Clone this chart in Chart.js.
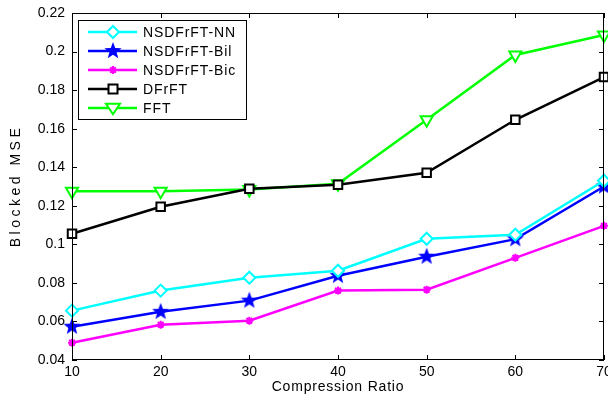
<!DOCTYPE html>
<html>
<head>
<meta charset="utf-8">
<script src="https://cdn.jsdelivr.net/npm/chart.js@4.4.0/dist/chart.umd.min.js"></script>
<style>
  html, body { margin: 0; padding: 0; background: #fff; }
  canvas { display: block; }
</style>
</head>
<body>
<canvas id="grafico" width="608" height="400"></canvas>
<script>
// valores
const ratios = [10, 20, 30, 40, 50, 60, 70];
const nsdNN  = [0.0656, 0.0760, 0.0827, 0.0863, 0.1029, 0.1050, 0.1330];
const nsdBil = [0.0573, 0.0650, 0.0708, 0.0837, 0.0936, 0.1027, 0.1300];
const nsdBic = [0.0490, 0.0583, 0.0604, 0.0760, 0.0765, 0.0930, 0.1096];
const dfrft  = [0.1055, 0.1195, 0.1288, 0.1309, 0.1371, 0.1646, 0.1868];
const fft    = [0.1275, 0.1275, 0.1285, 0.1314, 0.1646, 0.1982, 0.2086];
const yTicks = [0.04, 0.06, 0.08, 0.1, 0.12, 0.14, 0.16, 0.18, 0.2, 0.22];

const fonte = "'Liberation Sans', Arial, sans-serif";

// estrela cheia (pentagrama) para a serie Bil
function criarEstrela(cor, r) {
  const c = document.createElement("canvas");
  const s = Math.ceil(r * 2 + 2);
  c.width = s; c.height = s;
  const g = c.getContext("2d");
  g.beginPath();
  for (let i = 0; i < 10; i++) {
    const rad = i % 2 === 0 ? r : r * 0.42;
    const a = -Math.PI / 2 + i * Math.PI / 5;
    const px = s / 2 + rad * Math.cos(a), py = s / 2 + rad * Math.sin(a);
    if (i === 0) g.moveTo(px, py); else g.lineTo(px, py);
  }
  g.closePath();
  g.fillStyle = cor;
  g.fill();
  return c;
}
const estrela = criarEstrela("#0000ff", 9);

const series = [
  { label: "NSDFrFT-NN", data: nsdNN, cor: "#00ffff", estilo: "rectRot", raio: 6, rot: 0 },
  { label: "NSDFrFT-Bil", data: nsdBil, cor: "#0000ff", estilo: estrela, raio: 9, rot: 0 },
  { label: "NSDFrFT-Bic", data: nsdBic, cor: "#ff00ff", estilo: "star", raio: 4, rot: 0 },
  { label: "DFrFT", data: dfrft, cor: "#000000", estilo: "rect", raio: 6, rot: 0 },
  { label: "FFT", data: fft, cor: "#00ff00", estilo: "triangle", raio: 7, rot: 180 },
];

function desenharMarcador(ctx, s, x, y) {
  ctx.save();
  ctx.strokeStyle = s.cor;
  ctx.fillStyle = s.cor;
  ctx.lineWidth = 2;
  if (typeof s.estilo !== "string") {
    ctx.drawImage(s.estilo, x - s.estilo.width / 2, y - s.estilo.height / 2);
  } else if (s.estilo === "rectRot") {
    ctx.fillStyle = "#fff";
    ctx.beginPath();
    ctx.moveTo(x, y - s.raio); ctx.lineTo(x + s.raio, y);
    ctx.lineTo(x, y + s.raio); ctx.lineTo(x - s.raio, y); ctx.closePath();
    ctx.fill(); ctx.stroke();
  } else if (s.estilo === "star") {
    const r = s.raio;
    ctx.beginPath();
    ctx.moveTo(x - r, y); ctx.lineTo(x + r, y);
    ctx.moveTo(x, y - r); ctx.lineTo(x, y + r);
    ctx.moveTo(x - r * 0.7, y - r * 0.7); ctx.lineTo(x + r * 0.7, y + r * 0.7);
    ctx.moveTo(x + r * 0.7, y - r * 0.7); ctx.lineTo(x - r * 0.7, y + r * 0.7);
    ctx.stroke();
  } else if (s.estilo === "rect") {
    const r = s.raio * 0.75;
    ctx.fillStyle = "#fff";
    ctx.fillRect(x - r, y - r, 2 * r, 2 * r);
    ctx.strokeRect(x - r, y - r, 2 * r, 2 * r);
  } else if (s.estilo === "triangle") {
    const r = s.raio;
    ctx.fillStyle = "#fff";
    ctx.beginPath();
    ctx.moveTo(x - r, y - r * 0.6); ctx.lineTo(x + r, y - r * 0.6);
    ctx.lineTo(x, y + r * 0.9); ctx.closePath();
    ctx.fill(); ctx.stroke();
  }
  ctx.restore();
}

// eixos estilo MATLAB: caixa, ticks para dentro, legenda e titulos
const molduraPlugin = {
  id: "moldura",
  afterDatasetsDraw(chart) {
    const { ctx, chartArea: { left, right, top, bottom }, scales } = chart;
    ctx.save();
    ctx.strokeStyle = "#000";
    ctx.lineWidth = 1;
    ctx.strokeRect(left + 0.5, top + 0.5, right - left - 1, bottom - top - 1);
    ctx.beginPath();
    ratios.forEach((v) => {
      const x = Math.round(scales.x.getPixelForValue(v)) + 0.5;
      ctx.moveTo(x, bottom); ctx.lineTo(x, bottom - 5);
      ctx.moveTo(x, top); ctx.lineTo(x, top + 5);
    });
    yTicks.forEach((v) => {
      const y = Math.round(scales.y.getPixelForValue(v)) + 0.5;
      ctx.moveTo(left, y); ctx.lineTo(left + 5, y);
      ctx.moveTo(right, y); ctx.lineTo(right - 5, y);
    });
    ctx.stroke();

    // legenda
    const lx = 78, ly = 20, lw = 168, lh = 99;
    ctx.fillStyle = "#fff";
    ctx.fillRect(lx, ly, lw, lh);
    ctx.strokeRect(lx + 0.5, ly + 0.5, lw, lh);
    series.forEach((s, i) => {
      const y = 32 + i * 19;
      ctx.strokeStyle = s.cor;
      ctx.lineWidth = 2.5;
      ctx.beginPath();
      ctx.moveTo(88, y); ctx.lineTo(137, y);
      ctx.stroke();
      desenharMarcador(ctx, s, 113, y);
      ctx.fillStyle = "#000";
      ctx.font = "14px " + fonte;
      ctx.letterSpacing = "0.9px";
      ctx.textAlign = "left";
      ctx.textBaseline = "middle";
      ctx.fillText(s.label, 143, y + 1);
    });

    // titulos dos eixos
    ctx.fillStyle = "#000";
    ctx.font = "14px " + fonte;
    ctx.textAlign = "center";
    ctx.textBaseline = "middle";
    ctx.letterSpacing = "0.8px";
    ctx.fillText("Compression Ratio", (left + right) / 2, 387);
    ctx.save();
    ctx.translate(16, 188);
    ctx.rotate(-Math.PI / 2);
    ctx.letterSpacing = "3.5px";
    ctx.fillText("Blocked MSE", 2, 0);
    ctx.restore();
    ctx.restore();
  },
};

new Chart(document.getElementById("grafico"), {
  type: "line",
  data: {
    datasets: series.map((s) => ({
      label: s.label,
      data: ratios.map((r, i) => ({ x: r, y: s.data[i] })),
      borderColor: s.cor,
      backgroundColor: typeof s.estilo === "string" && s.estilo !== "star" ? "#fff" : s.cor,
      borderWidth: 2.5,
      pointStyle: s.estilo,
      pointRadius: s.raio,
      pointRotation: s.rot,
      pointBorderWidth: 2,
      pointBorderColor: s.cor,
      tension: 0,
      clip: false,
    })),
  },
  plugins: [molduraPlugin],
  options: {
    responsive: false,
    animation: false,
    maintainAspectRatio: false,
    devicePixelRatio: 1,
    layout: { autoPadding: false, padding: { left: 0, top: 13, right: 4, bottom: 0 } },
    plugins: { legend: { display: false }, tooltip: { enabled: false } },
    scales: {
      x: {
        type: "linear", min: 10, max: 70,
        afterBuildTicks: (sc) => { sc.ticks = ratios.map((v) => ({ value: v })); },
        afterFit: (sc) => { sc.height = 40; sc.paddingLeft = 0; sc.paddingRight = 0; },
        grid: { display: false, drawTicks: false },
        border: { display: false },
        ticks: { color: "#000", font: { family: fonte, size: 14 }, padding: 4,
                 maxRotation: 0, autoSkip: false },
      },
      y: {
        min: 0.04, max: 0.22,
        afterBuildTicks: (sc) => { sc.ticks = yTicks.map((v) => ({ value: v })); },
        afterFit: (sc) => { sc.width = 72; sc.paddingTop = 0; sc.paddingBottom = 0; },
        grid: { display: false, drawTicks: false },
        border: { display: false },
        ticks: { color: "#000", font: { family: fonte, size: 14 }, padding: 7, autoSkip: false,
                 callback: (v) => String(+v.toFixed(2)) },
      },
    },
  },
});
</script>
</body>
</html>
